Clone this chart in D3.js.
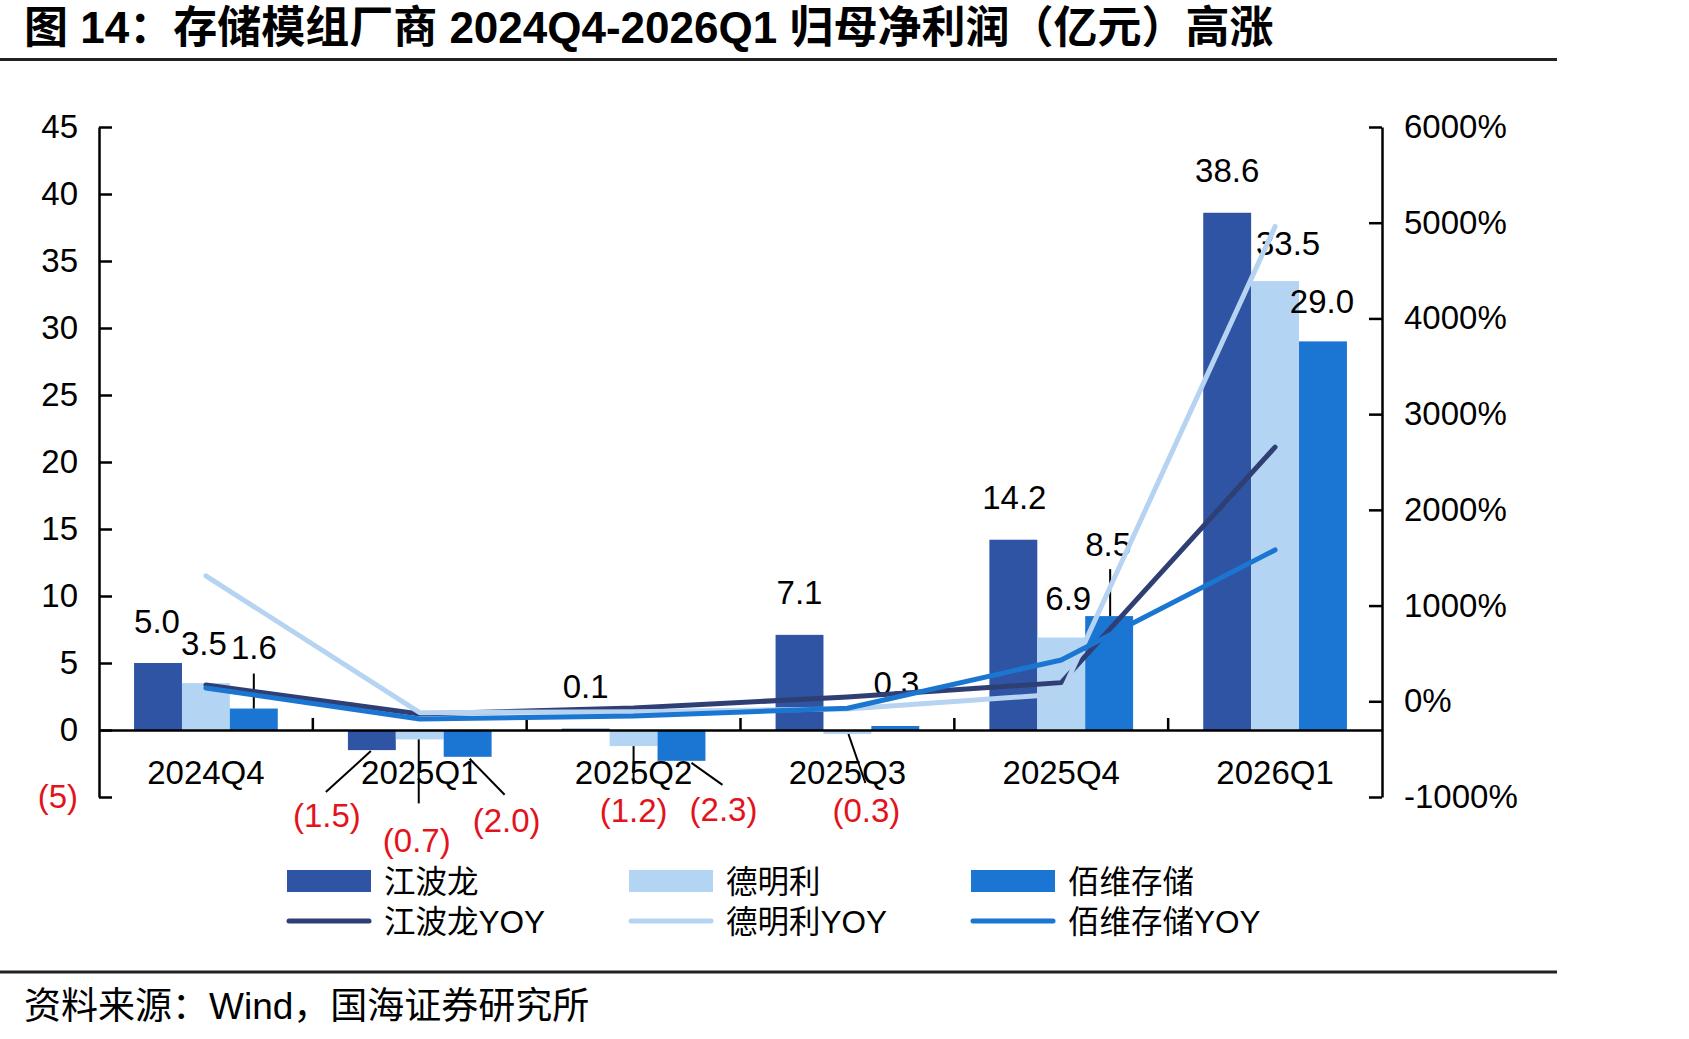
<!DOCTYPE html>
<html>
<head>
<meta charset="utf-8">
<script src="https://cdn.jsdelivr.net/npm/d3@7/dist/d3.min.js"></script>
<style>
  html, body { margin: 0; padding: 0; background: #fff; }
  svg { display: block; }
  text { font-family: "Liberation Sans", "Noto Sans CJK SC", sans-serif; }
</style>
</head>
<body>
<svg id="chart" width="1689" height="1039"></svg>
<script>
// ---------------- data ----------------
const categories = ["2024Q4", "2025Q1", "2025Q2", "2025Q3", "2025Q4", "2026Q1"];
const seriesNames = ["江波龙", "德明利", "佰维存储"];
const jiangbolong = [5.0, -1.5, 0.1, 7.1, 14.2, 38.6];
const demingli    = [3.5, -0.7, -1.2, -0.3, 6.9, 33.5];
const baiwei      = [1.6, -2.0, -2.3, 0.3, 8.5, 29.0];
const jiangbolongYoy = [170, -133, -70, 45, 195, 2655];
const demingliYoy    = [1310, -119, -109, -80, 76, 4959];
const baiweiYoy      = [139, -185, -154, -73, 432, 1581];
const leftTicks  = [-5, 0, 5, 10, 15, 20, 25, 30, 35, 40, 45];
const rightTicks = [-1000, 0, 1000, 2000, 3000, 4000, 5000, 6000];
const titleText  = "图 14：存储模组厂商 2024Q4-2026Q1 归母净利润（亿元）高涨";
const sourceText = "资料来源：Wind，国海证券研究所";

// ---------------- styles / layout ----------------
const barColors  = ["#2f54a3", "#b4d4f4", "#1a75d3"];
const lineColors = ["#2f3f74", "#b6d4f2", "#1b76d2"];
const RED = "#e3131b";
const FS = 33;
const barSeries  = [jiangbolong, demingli, baiwei];
const lineSeries = [jiangbolongYoy, demingliYoy, baiweiYoy];

// label offsets [dx, dy] from bar centre / bar end (pixels)
const labelLayout = [
  [[-1, -42], [-45, 65], [0, -42], [0, -42], [1, -42], [0, -42]],
  [[-2, -40], [-3, 101], [0, 64], [19, 76], [7, -39], [13, -38]],
  [[0, -61], [39, 64], [42, 49], [1, -42], [-1, -72], [-1, -40]]
];
// leader lines: series, category, start offset from bar end, end offset from label centre
const leaders = [
  {s: 2, i: 0, a: [0, 0],  b: [0, 26]},
  {s: 0, i: 1, a: [-1, 1], b: [-1, -23]},
  {s: 1, i: 1, a: [-1, 0], b: [2, -37]},
  {s: 2, i: 1, a: [2, 2],  b: [-2, -26]},
  {s: 1, i: 2, a: [0, 0],  b: [0, -26]},
  {s: 2, i: 2, a: [10, 2], b: [-1, -25]},
  {s: 1, i: 3, a: [1, 0],  b: [-1, -27]},
  {s: 2, i: 4, a: [1, 0],  b: [2, 25]}
];

const svg = d3.select("#chart");
svg.append("rect").attr("width", 1689).attr("height", 1039).attr("fill", "#fff");

// title + rules + source
svg.append("text").attr("x", 24).attr("y", 27)
  .attr("dominant-baseline", "central")
  .attr("font-size", 44).attr("font-weight", "bold").attr("fill", "#000")
  .text(titleText);
svg.append("line").attr("x1", 0).attr("x2", 1557).attr("y1", 59.5).attr("y2", 59.5)
  .attr("stroke", "#222").attr("stroke-width", 3);
svg.append("line").attr("x1", 0).attr("x2", 1557).attr("y1", 972).attr("y2", 972)
  .attr("stroke", "#222").attr("stroke-width", 3);
svg.append("text").attr("x", 24).attr("y", 1006)
  .attr("dominant-baseline", "central")
  .attr("font-size", 37).attr("fill", "#000")
  .text(sourceText);

// scales
const X0 = 99, X1 = 1382, YTOP = 127, YBOT = 797;
const x = d3.scaleBand().domain(categories).range([X0, X1]).padding(0);
const bwid = x.bandwidth();
const xi = d3.scaleBand().domain(d3.range(seriesNames.length))
  .range([bwid * 0.164, bwid * 0.836]).padding(0);
const yL = d3.scaleLinear().domain([-5, 45]).range([YBOT, YTOP]);
const yR = d3.scaleLinear().domain([-1000, 6000]).range([YBOT, YTOP]);
const y0 = yL(0);

// axes
const fmtLeft = d => d < 0 ? "(" + Math.abs(d) + ")" : String(d);
const gL = svg.append("g").attr("transform", `translate(${X0},0)`)
  .call(d3.axisLeft(yL).tickValues(leftTicks).tickFormat(fmtLeft)
    .tickSize(-13).tickSizeOuter(0).tickPadding(21));
const gR = svg.append("g").attr("transform", `translate(${X1},0)`)
  .call(d3.axisRight(yR).tickValues(rightTicks).tickFormat(d => d + "%")
    .tickSize(-13).tickSizeOuter(0).tickPadding(22));
[gL, gR].forEach(g => {
  g.selectAll("path, line").attr("stroke", "#000").attr("stroke-width", 2.5);
  g.selectAll("text").attr("font-size", FS).attr("fill", "#000")
    .attr("font-family", "Liberation Sans, Arial, sans-serif");
});
gL.selectAll(".tick text").attr("fill", d => d < 0 ? RED : "#000");

// bars
seriesNames.forEach((name, s) => {
  svg.append("g").selectAll("rect").data(barSeries[s]).join("rect")
    .attr("x", (d, i) => x(categories[i]) + xi(s))
    .attr("width", xi.bandwidth())
    .attr("y", d => Math.min(yL(d), y0))
    .attr("height", d => Math.abs(yL(d) - y0))
    .attr("fill", barColors[s]);
});

// category axis (zero line)
const gX = svg.append("g").attr("transform", `translate(0,${y0})`)
  .call(d3.axisBottom(x).tickSize(0).tickPadding(0));
gX.select(".domain").attr("stroke", "#000").attr("stroke-width", 2.5);
gX.selectAll("text").attr("y", 42).attr("dy", "0.35em")
  .attr("font-size", FS).attr("fill", "#000")
  .attr("font-family", "Liberation Sans, Arial, sans-serif");
svg.append("g").selectAll("line").data(categories.slice(1)).join("line")
  .attr("x1", d => x(d)).attr("x2", d => x(d))
  .attr("y1", y0 - 12).attr("y2", y0)
  .attr("stroke", "#000").attr("stroke-width", 2.5);

// data labels
const fmtVal = v => v < 0 ? "(" + Math.abs(v).toFixed(1) + ")" : v.toFixed(1);
const barCx = (s, i) => x(categories[i]) + xi(s) + xi.bandwidth() / 2;
const labelPos = (s, i) => {
  const v = barSeries[s][i];
  const off = labelLayout[s][i];
  return [barCx(s, i) + off[0], yL(v) + off[1]];
};
const gLab = svg.append("g");
seriesNames.forEach((name, s) => {
  barSeries[s].forEach((v, i) => {
    const p = labelPos(s, i);
    gLab.append("text").attr("x", p[0]).attr("y", p[1])
      .attr("text-anchor", "middle").attr("dominant-baseline", "central")
      .attr("font-size", FS).attr("fill", v < 0 ? RED : "#000")
      .text(fmtVal(v));
  });
});
gLab.selectAll("line.leader").data(leaders).join("line").attr("class", "leader")
  .attr("x1", d => barCx(d.s, d.i) + d.a[0])
  .attr("y1", d => yL(barSeries[d.s][d.i]) + d.a[1])
  .attr("x2", d => labelPos(d.s, d.i)[0] + d.b[0])
  .attr("y2", d => labelPos(d.s, d.i)[1] + d.b[1])
  .attr("stroke", "#000").attr("stroke-width", 2);

// YOY lines
const line = d3.line()
  .x((d, i) => x(categories[i]) + bwid / 2)
  .y(d => yR(d));
lineSeries.forEach((vals, s) => {
  svg.append("path").datum(vals).attr("d", line)
    .attr("fill", "none").attr("stroke", lineColors[s]).attr("stroke-width", 5)
    .attr("stroke-linecap", "round").attr("stroke-linejoin", "round");
});

// legend
const legX = [287, 629, 971];
const legG = svg.append("g");
seriesNames.forEach((name, s) => {
  legG.append("rect").attr("x", legX[s]).attr("y", 870).attr("width", 84).attr("height", 22)
    .attr("fill", barColors[s]);
  legG.append("text").attr("x", legX[s] + 97).attr("y", 882)
    .attr("dominant-baseline", "central").attr("font-size", 31.5).attr("fill", "#000")
    .text(name);
  legG.append("line").attr("x1", legX[s] + 2).attr("x2", legX[s] + 82)
    .attr("y1", 921).attr("y2", 921)
    .attr("stroke", lineColors[s]).attr("stroke-width", 5).attr("stroke-linecap", "round");
  legG.append("text").attr("x", legX[s] + 97).attr("y", 922)
    .attr("dominant-baseline", "central").attr("font-size", 31.5).attr("fill", "#000")
    .text(name + "YOY");
});
</script>
</body>
</html>
